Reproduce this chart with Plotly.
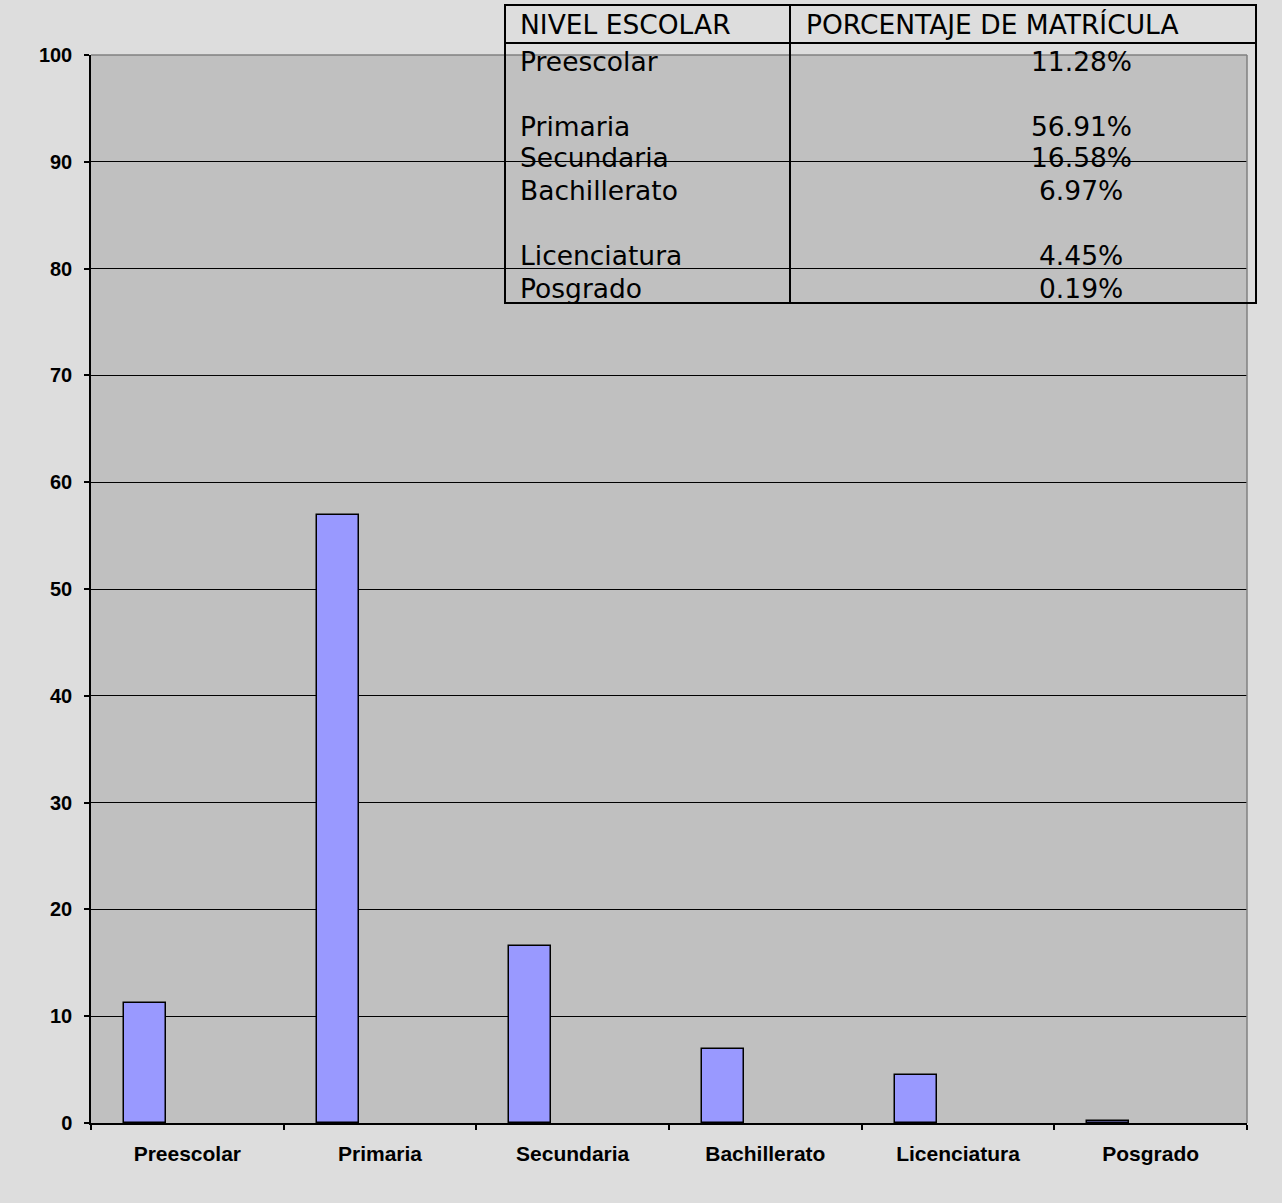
import plotly.graph_objects as go

categories = ["Preescolar", "Primaria", "Secundaria", "Bachillerato", "Licenciatura", "Posgrado"]
values = [11.28, 56.91, 16.58, 6.97, 4.45, 0.19]
table_labels = ["Preescolar", "Primaria", "Secundaria", "Bachillerato", "Licenciatura", "Posgrado"]
table_values = ["11.28%", "56.91%", "16.58%", "6.97%", "4.45%", "0.19%"]
header = ["NIVEL ESCOLAR", "PORCENTAJE DE MATRÍCULA"]

W, H = 1282, 1203
L, R, T, B = 91, 1247, 55, 1123


def px_x(px):
    return (px - L) / (R - L)


def px_y(py):
    return (B - py) / (B - T)


fig = go.Figure()
fig.add_trace(go.Bar(
    x=categories, y=values,
    width=0.218, offset=-0.329,
    marker=dict(color="#9999FF", line=dict(color="black", width=1.5)),
    showlegend=False,
))

shapes = []
# plot area top/right border (gray)
shapes.append(dict(type="line", xref="paper", yref="paper", x0=0, x1=1, y0=1, y1=1,
                   line=dict(color="#808080", width=1.5)))
shapes.append(dict(type="line", xref="paper", yref="paper", x0=1, x1=1, y0=0, y1=1,
                   line=dict(color="#808080", width=1.5)))
# table borders
tl, tr, tt, tb = 505, 1256, 5, 303
shapes.append(dict(type="rect", xref="paper", yref="paper",
                   x0=px_x(tl), x1=px_x(tr), y0=px_y(tb), y1=px_y(tt),
                   line=dict(color="black", width=2), fillcolor="rgba(0,0,0,0)"))
shapes.append(dict(type="line", xref="paper", yref="paper",
                   x0=px_x(tl), x1=px_x(tr), y0=px_y(43), y1=px_y(43),
                   line=dict(color="black", width=2)))
shapes.append(dict(type="line", xref="paper", yref="paper",
                   x0=px_x(790), x1=px_x(790), y0=px_y(tb), y1=px_y(tt),
                   line=dict(color="black", width=2)))

annotations = []
tfont = dict(family="DejaVu Sans", size=26.5, color="black")
annotations.append(dict(text=header[0], xref="paper", yref="paper", x=px_x(518), y=px_y(24),
                        xanchor="left", yanchor="middle", showarrow=False, font=tfont))
annotations.append(dict(text=header[1], xref="paper", yref="paper", x=px_x(804), y=px_y(24),
                        xanchor="left", yanchor="middle", showarrow=False, font=tfont))
row_y = [62, 126, 158, 190, 255, 288]
for lab, val, ry in zip(table_labels, table_values, row_y):
    annotations.append(dict(text=lab, xref="paper", yref="paper", x=px_x(518), y=px_y(ry),
                            xanchor="left", yanchor="middle", showarrow=False, font=tfont))
    annotations.append(dict(text=val, xref="paper", yref="paper", x=px_x(1081), y=px_y(ry),
                            xanchor="center", yanchor="middle", showarrow=False, font=tfont))

xfont = dict(family="Liberation Sans, Arial", size=21, color="black", weight="bold")
yfont = dict(family="Liberation Sans, Arial", size=20, color="black", weight="bold")

fig.update_layout(
    width=W, height=H,
    margin=dict(l=L, r=W - R, t=T, b=H - B, pad=0),
    paper_bgcolor="#DDDDDD",
    plot_bgcolor="#C0C0C0",
    shapes=shapes,
    annotations=annotations,
    bargap=0,
    xaxis=dict(
        type="category", range=[-0.5, 5.5],
        showline=True, linecolor="black", linewidth=1.5,
        ticks="outside", ticklen=5, tickcolor="black", tickwidth=1.5,
        tickson="boundaries", showgrid=False,
        tickfont=xfont, ticklabelstandoff=11,
    ),
    yaxis=dict(
        range=[0, 100], dtick=10, tick0=0,
        showline=True, linecolor="black", linewidth=1.5,
        ticks="outside", ticklen=5, tickcolor="black", tickwidth=1.5,
        showgrid=True, gridcolor="black", gridwidth=1.2,
        zeroline=False,
        tickfont=yfont, ticklabelstandoff=8,
    ),
)

fig.write_html("out.html")
